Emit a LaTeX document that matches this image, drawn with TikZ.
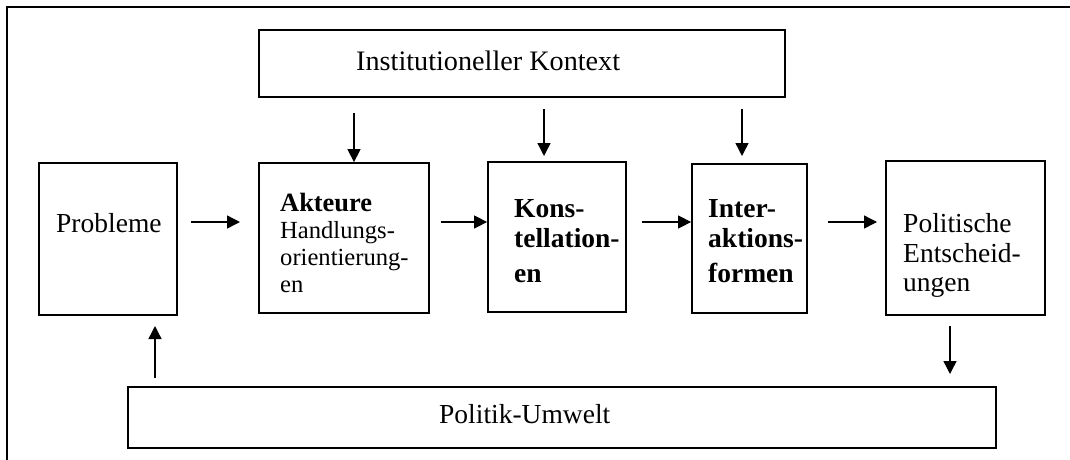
\documentclass[tikz,border=0pt]{standalone}
\usepackage{fontspec}
\setmainfont{Liberation Serif}
\usetikzlibrary{arrows.meta}
\begin{document}
\begin{tikzpicture}[x=1pt,y=-1pt,
  box/.style={draw, line width=1.8pt, inner sep=0pt, minimum width=#1},
  txt/.style={anchor=base west, inner sep=0pt, font=\fontsize{27.5}{30}\selectfont},
  btxt/.style={anchor=base west, inner sep=0pt, font=\fontsize{27.5}{30}\selectfont\bfseries},
  arr/.style={line width=1.4pt, -{Triangle[length=13pt,width=13pt]}}
]
\useasboundingbox (0,0) rectangle (1070,459);
% outer frame
\draw[line width=1.8pt] (1072,7) -- (7,7) -- (7,461);
% boxes
\node[box=526, minimum height=67] (inst) at (522,63.5) {};
\node[box=138, minimum height=152] (prob) at (108,239) {};
\node[box=170, minimum height=150] (akt) at (344,238) {};
\node[box=138, minimum height=150] (kon) at (557,237) {};
\node[box=115, minimum height=149] (int) at (749.5,238.5) {};
\node[box=159, minimum height=154] (pol) at (965.5,238) {};
\node[box=868, minimum height=61] (umw) at (562,417.5) {};
% texts
\node[txt, font=\fontsize{28.2}{30}\selectfont] (tinst) at (356,70) {Institutioneller Kontext};
\node[txt] (tprob) at (56,232) {Probleme};
\node[btxt, font=\fontsize{26.4}{28}\selectfont\bfseries] (takt1) at (280,211) {Akteure};
\node[txt, font=\fontsize{24.6}{27}\selectfont] (takt2) at (280,238) {Handlungs-};
\node[txt, font=\fontsize{24.6}{27}\selectfont] (takt3) at (280,265) {orientierung-};
\node[txt, font=\fontsize{24.6}{27}\selectfont] (takt4) at (280,292) {en};
\node[btxt] (tkon1) at (514,217) {Kons-};
\node[btxt] (tkon2) at (514,247) {tellation-};
\node[btxt] (tkon3) at (514,282) {en};
\node[btxt] (tint1) at (708,217) {Inter-};
\node[btxt] (tint2) at (708,247) {aktions-};
\node[btxt] (tint3) at (708,282) {formen};
\node[txt] (tpol1) at (903,232) {Politische};
\node[txt] (tpol2) at (903,262) {Entscheid-};
\node[txt] (tpol3) at (903,291) {ungen};
\node[txt] (tumw) at (439,423) {Politik-Umwelt};
% arrow start/end coordinates
\coordinate (a1s) at (191,222);
\coordinate (a1e) at (240,222);
\coordinate (a2s) at (441,222);
\coordinate (a3s) at (642,222);
\coordinate (a4s) at (828,222);
\coordinate (a4e) at (877,222);
\coordinate (d1s) at (354,113);
\coordinate (d2s) at (544,109);
\coordinate (d2e) at (544,156);
\coordinate (d3s) at (742,109);
\coordinate (d3e) at (742,156);
\coordinate (u1s) at (155,378);
\coordinate (u1e) at (155,326);
\coordinate (d4s) at (950,326);
\coordinate (d4e) at (950,374);
% horizontal arrows
\draw[arr] (a1s) -- (a1e);
\draw[arr] (a2s) -- (kon.west |- a2s);
\draw[arr] (a3s) -- (int.west |- a3s);
\draw[arr] (a4s) -- (a4e);
% vertical arrows
\draw[arr] (d1s) -- (akt.north -| d1s);
\draw[arr] (d2s) -- (d2e);
\draw[arr] (d3s) -- (d3e);
\draw[arr] (u1s) -- (u1e);
\draw[arr] (d4s) -- (d4e);
\end{tikzpicture}
\end{document}
